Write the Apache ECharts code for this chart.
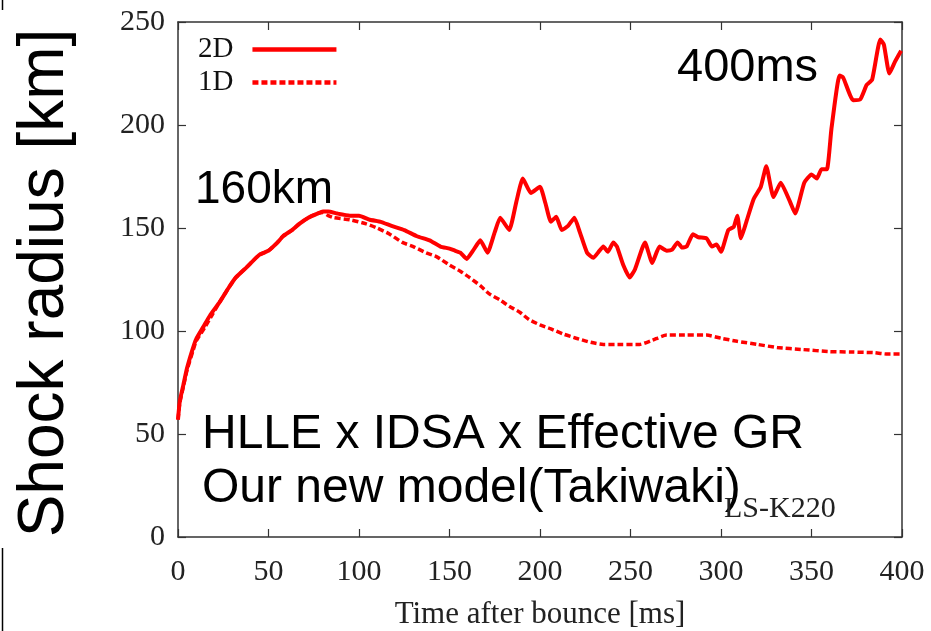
<!DOCTYPE html>
<html>
<head>
<meta charset="utf-8">
<script src="https://cdn.jsdelivr.net/npm/echarts@6/dist/echarts.min.js"></script>
<style>
  html, body { margin: 0; padding: 0; background: #fff; }
  #chart { width: 931px; height: 631px; }
</style>
</head>
<body>
<div id="chart"></div>
<script>
// Shock radius evolution, 2D vs 1D run (time after bounce in ms, radius in km)
const seriesNames = ['2D', '1D'];

const time2D = [0, 1, 3, 5, 8, 10, 14, 18, 23, 28, 32, 38, 45, 50, 55, 58, 63, 67, 72, 77, 80, 83, 88, 95, 100, 106, 112, 118, 125, 132, 139, 145, 150, 153, 156, 159.5, 163, 167, 171, 175, 178, 183, 187, 190.5, 195, 200, 203, 206, 209, 212, 215.5, 219, 222, 226, 229.5, 232, 235, 237.5, 240.5, 242.5, 246, 249.5, 252.5, 258, 262, 266, 270, 273, 276, 278.5, 281, 284.5, 287.5, 292, 295, 297.5, 300, 304, 307, 309, 311, 314, 318, 322, 325, 329, 333, 338, 341, 346, 350, 353, 355.5, 358.5, 361, 365.5, 367.5, 373, 377, 380.5, 383.5, 388, 390, 393, 396, 399.5];
const radius2D = [57, 66, 74, 82, 91, 96, 102, 108, 114, 121, 126, 131, 137, 139, 143, 146, 149, 152, 155, 157, 158, 158, 157, 156, 156, 154, 153, 151, 149, 146, 144, 141, 140, 139, 138, 135, 139, 144, 138, 148, 155, 149, 163, 174, 167, 170, 162, 153, 155.5, 149, 151, 155, 148, 138, 135.5, 138, 141, 138.5, 143, 141, 132, 126, 130, 143, 133, 141, 139, 139.5, 143, 140.5, 141, 147, 145.5, 145, 141, 142, 138.5, 149, 150.5, 156, 145, 153, 164, 170, 180, 165, 172, 163, 157, 172, 176, 174, 178.5, 178.5, 198, 224, 223, 212, 212.5, 219.5, 222, 241.5, 239, 225, 230.5, 236];

const time1D = [0, 1, 3, 5, 8.5, 10, 15, 19, 23, 28, 32, 38, 45, 50, 55, 58, 63, 67, 72, 77, 80, 83, 86, 95, 104, 110, 117, 124, 130, 137, 143, 150, 156, 161, 167, 172, 178, 183, 189, 194, 200, 206, 213, 220, 228, 235, 245, 255, 262, 270, 280, 292, 300, 309, 320, 331, 345, 360, 372, 384, 392, 399];
const radius1D = [57, 65, 73, 81, 91, 95, 102, 108, 114, 121, 126, 131, 137, 139, 143, 146, 149, 152, 155, 157, 157.5, 156, 155, 154, 152, 150, 147, 143, 141, 138, 136, 132, 129, 126, 122, 118, 115, 112, 109, 105.5, 103, 101, 98.5, 96.5, 94.5, 93.5, 93.5, 93.5, 95.5, 98, 98, 98, 96.5, 95, 93.5, 92, 91, 90, 89.8, 89.5, 88.8, 88.8];

const xTicks = [0, 50, 100, 150, 200, 250, 300, 350, 400];
const yTicks = [0, 50, 100, 150, 200, 250];

const pairs = (xs, ys) => xs.map((x, i) => [x, ys[i]]);

const serif = '"Liberation Serif", "Times New Roman", serif';
const sans = '"Liberation Sans", Arial, sans-serif';
const axisColor = '#333';
const red = '#ff0000';

const chart = echarts.init(document.getElementById('chart'), null, { renderer: 'canvas' });

// every side of the frame carries inward ticks
function frameAxis(extra) {
  return Object.assign({
    type: 'value',
    axisLine: { show: true, onZero: false, lineStyle: { color: axisColor, width: 1.5 } },
    axisTick: { show: true, inside: true, length: 8, lineStyle: { color: axisColor, width: 1.2 } },
    splitLine: { show: false }
  }, extra);
}

chart.setOption({
  animation: false,
  backgroundColor: '#fff',
  grid: { left: 178, right: 29, top: 22, bottom: 94, containLabel: false, outerBoundsMode: 'none' },
  legend: {
    data: seriesNames,
    orient: 'vertical',
    left: 193,
    top: 30,
    align: 'right',
    itemWidth: 84,
    itemHeight: 14,
    itemGap: 4,
    itemStyle: { opacity: 0 },
    lineStyle: { width: 4.5 },
    textStyle: { fontFamily: serif, fontSize: 29, color: '#111', lineHeight: 28, padding: [0, 14, 0, 0] }
  },
  xAxis: [
    frameAxis({
      min: xTicks[0], max: xTicks[xTicks.length - 1], interval: 50,
      position: 'bottom',
      axisLabel: { fontFamily: serif, fontSize: 30, color: '#222', margin: 20 },
      name: 'Time after bounce [ms]',
      nameLocation: 'middle',
      nameGap: 62,
      nameTextStyle: { fontFamily: serif, fontSize: 31, color: '#222' }
    }),
    frameAxis({
      min: xTicks[0], max: xTicks[xTicks.length - 1], interval: 50,
      position: 'top',
      axisLabel: { show: false }
    })
  ],
  yAxis: [
    frameAxis({
      min: yTicks[0], max: yTicks[yTicks.length - 1], interval: 50,
      position: 'left',
      axisLabel: { fontFamily: serif, fontSize: 30, color: '#222', margin: 13 }
    }),
    frameAxis({
      min: yTicks[0], max: yTicks[yTicks.length - 1], interval: 50,
      position: 'right',
      axisLabel: { show: false }
    })
  ],
  series: [
    {
      name: seriesNames[0],
      type: 'line',
      data: pairs(time2D, radius2D),
      symbol: 'none',
      smooth: 0.15,
      z: 3,
      lineStyle: { color: red, width: 4 },
      itemStyle: { color: red }
    },
    {
      name: seriesNames[1],
      type: 'line',
      data: pairs(time1D, radius1D),
      symbol: 'none',
      smooth: 0.2,
      z: 2,
      lineStyle: { color: red, width: 3.5, type: [6, 3] },
      itemStyle: { color: red }
    }
  ],
  graphic: [
    { type: 'text', x: 45, y: 283, rotation: Math.PI / 2,
      style: { text: 'Shock radius [km]', font: '64px ' + sans, fill: '#000', align: 'center', verticalAlign: 'middle' } },
    { type: 'text', x: 195, y: 190,
      style: { text: '160km', font: '46px ' + sans, fill: '#000', align: 'left', verticalAlign: 'middle' } },
    { type: 'text', x: 677, y: 68,
      style: { text: '400ms', font: '47px ' + sans, fill: '#000', align: 'left', verticalAlign: 'middle' } },
    { type: 'text', x: 202, y: 435,
      style: { text: 'HLLE x IDSA x Effective GR', font: '48px ' + sans, fill: '#000', align: 'left', verticalAlign: 'middle' } },
    { type: 'text', x: 202, y: 489,
      style: { text: 'Our new model(Takiwaki)', font: '48px ' + sans, fill: '#000', align: 'left', verticalAlign: 'middle' } },
    { type: 'text', x: 724, y: 509,
      style: { text: 'LS-K220', font: '30px ' + serif, fill: '#222', align: 'left', verticalAlign: 'middle' } },
    { type: 'line', shape: { x1: 2.5, y1: 0, x2: 2.5, y2: 10 }, style: { stroke: '#000', lineWidth: 1.5 } },
    { type: 'line', shape: { x1: 2.5, y1: 548, x2: 2.5, y2: 631 }, style: { stroke: '#000', lineWidth: 1.5 } }
  ]
});
</script>
</body>
</html>
